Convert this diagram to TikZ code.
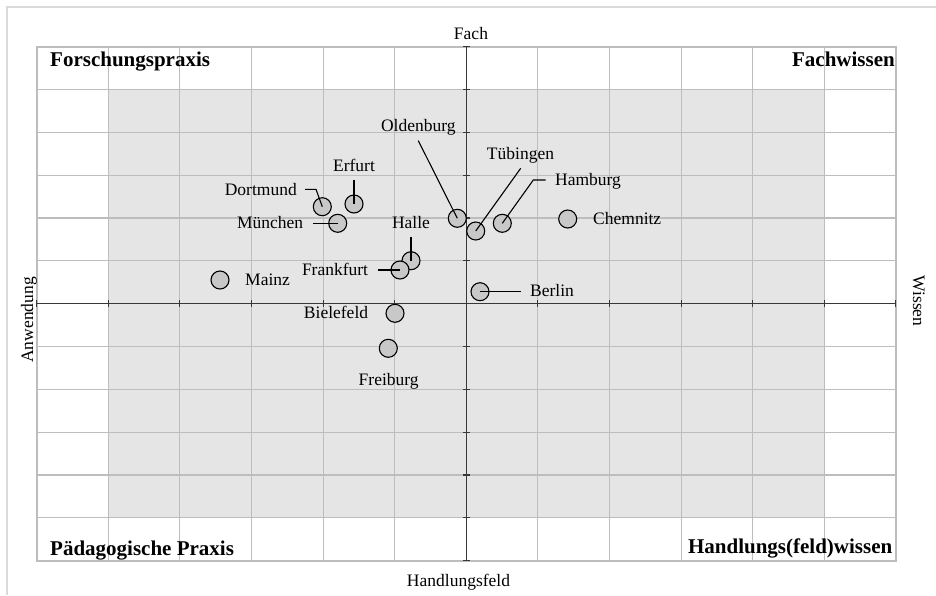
\documentclass[tikz,border=0pt]{standalone}
\usepackage{fontspec}
\setmainfont{Liberation Serif}
\definecolor{shadec}{HTML}{E5E5E5}
\definecolor{gridc}{HTML}{BDBDBD}
\definecolor{framec}{HTML}{DADADA}
\definecolor{axisc}{HTML}{383838}
\definecolor{dotc}{HTML}{C8C8C8}
\begin{document}
\begin{tikzpicture}[x=1pt,y=-1pt,
  lab/.style={font=\fontsize{17.5}{20}\selectfont, inner sep=0pt},
  corner/.style={font=\fontsize{21}{24}\selectfont\bfseries, inner sep=0pt},
  city/.style={circle, draw=black, line width=1.1pt, fill=dotc, minimum size=18pt, inner sep=0pt},
  leader/.style={line width=1.1pt, black},
  gridline/.style={gridc, line width=1.1pt},
  axisline/.style={axisc, line width=1.4pt},
  tickline/.style={axisc, line width=1.1pt}]
\path[use as bounding box] (0,0) rectangle (936,595);
\draw[framec, line width=2pt] (7,595) -- (7,7) -- (936,7);
% shaded area and grid
\fill[shadec] (108.3,89.5) rectangle (824.3,517.9);
\foreach \i in {0,...,12} \draw[gridline] ({36.7+71.6*\i},46.7) -- ({36.7+71.6*\i},560.7);
\foreach \j in {0,...,12} \draw[gridline] (36.7,{46.7+42.83*\j}) -- (896,{46.7+42.83*\j});
\draw[gridc, line width=1.6pt] (36.7,46.7) rectangle (896,560.7);
% axes
\draw[axisline] (36.7,303.7) -- (896,303.7);
\draw[axisline] (466.3,46.7) -- (466.3,560.7);
\foreach \i in {0,...,12} \draw[tickline] ({36.7+71.6*\i},300.2) -- ++(0,7);
\foreach \j in {0,...,12} \draw[tickline] (462.8,{46.7+42.83*\j}) -- ++(7,0);
% axis labels
\node[lab, anchor=base] (fach) at (471,39.3) {Fach};
\node[lab, anchor=base] (hfeld) at (458.5,586) {Handlungsfeld};
\node[lab, rotate=90, anchor=base] (anw) at (33,320) {Anwendung};
\node[lab, rotate=-90, anchor=base] (wis) at (913,301) {Wissen};
% corner labels
\node[corner, anchor=base west] (fp) at (50,66.7) {Forschungspraxis};
\node[corner, anchor=base east] (fw) at (895,66.7) {Fachwissen};
\node[corner, anchor=base west] (pp) at (50,555) {Pädagogische Praxis};
\node[corner, anchor=base east] (hw) at (892.5,553) {Handlungs(feld)wissen};
% cities
\node[city] (mainz) at (220,280) {};
\node[city] (dortmund) at (322.3,206.7) {};
\node[city] (erfurt) at (354,204) {};
\node[city] (muenchen) at (337.7,223.3) {};
\node[city] (halle) at (411,260.7) {};
\node[city] (frankfurt) at (400,270) {};
\node[city] (oldenburg) at (457.3,218.3) {};
\node[city] (tuebingen) at (475.7,231) {};
\node[city] (hamburg) at (502.3,223.3) {};
\node[city] (chemnitz) at (567.7,219) {};
\node[city] (berlin) at (480,291.7) {};
\node[city] (bielefeld) at (395,313.3) {};
\node[city] (freiburg) at (388.3,348.3) {};
% city labels
\node[lab, anchor=base west] (lmainz) at (245,285) {Mainz};
\node[lab, anchor=base east] (ldortmund) at (297,195) {Dortmund};
\node[lab, anchor=base] (lerfurt) at (354,171.7) {Erfurt};
\node[lab, anchor=base east] (lmuenchen) at (303.3,228.3) {München};
\node[lab, anchor=base] (lhalle) at (411,228.3) {Halle};
\node[lab, anchor=base east] (lfrankfurt) at (368.3,275.7) {Frankfurt};
\node[lab, anchor=base] (loldenburg) at (418.3,131.7) {Oldenburg};
\node[lab, anchor=base] (ltuebingen) at (520.5,159) {Tübingen};
\node[lab, anchor=base west] (lhamburg) at (555,185) {Hamburg};
\node[lab, anchor=base west] (lchemnitz) at (593,224) {Chemnitz};
\node[lab, anchor=base west] (lberlin) at (530,296.7) {Berlin};
\node[lab, anchor=base east] (lbielefeld) at (368.3,318.3) {Bielefeld};
\node[lab, anchor=base] (lfreiburg) at (388.7,385) {Freiburg};
% leader lines
\coordinate (cdortmund) at (305,189.3);
\coordinate (cmuenchen) at (313.3,223.3);
\coordinate (cerfurt) at (354,180);
\coordinate (challe) at (411,237.3);
\coordinate (cfrankfurt) at (377.7,270);
\coordinate (coldenburg) at (418.3,140.7);
\coordinate (ctuebingen) at (520.7,168.3);
\coordinate (chamburg) at (545.7,180);
\coordinate (cberlin) at (521,291.7);
\draw[leader] (cdortmund) -- ++(11,0) -- (dortmund.center);
\draw[leader] (cmuenchen) -- (muenchen.center);
\draw[leader] (cerfurt) -- (erfurt.center);
\draw[leader] (challe) -- (halle.center);
\draw[leader] (cfrankfurt) -- (frankfurt.center);
\draw[leader] (coldenburg) -- (oldenburg.center);
\draw[leader] (ctuebingen) -- (tuebingen.center);
\draw[leader] (chamburg) -- ++(-12.4,0) -- (hamburg.center);
\draw[leader] (berlin.center) -- (cberlin);
\end{tikzpicture}
\end{document}
